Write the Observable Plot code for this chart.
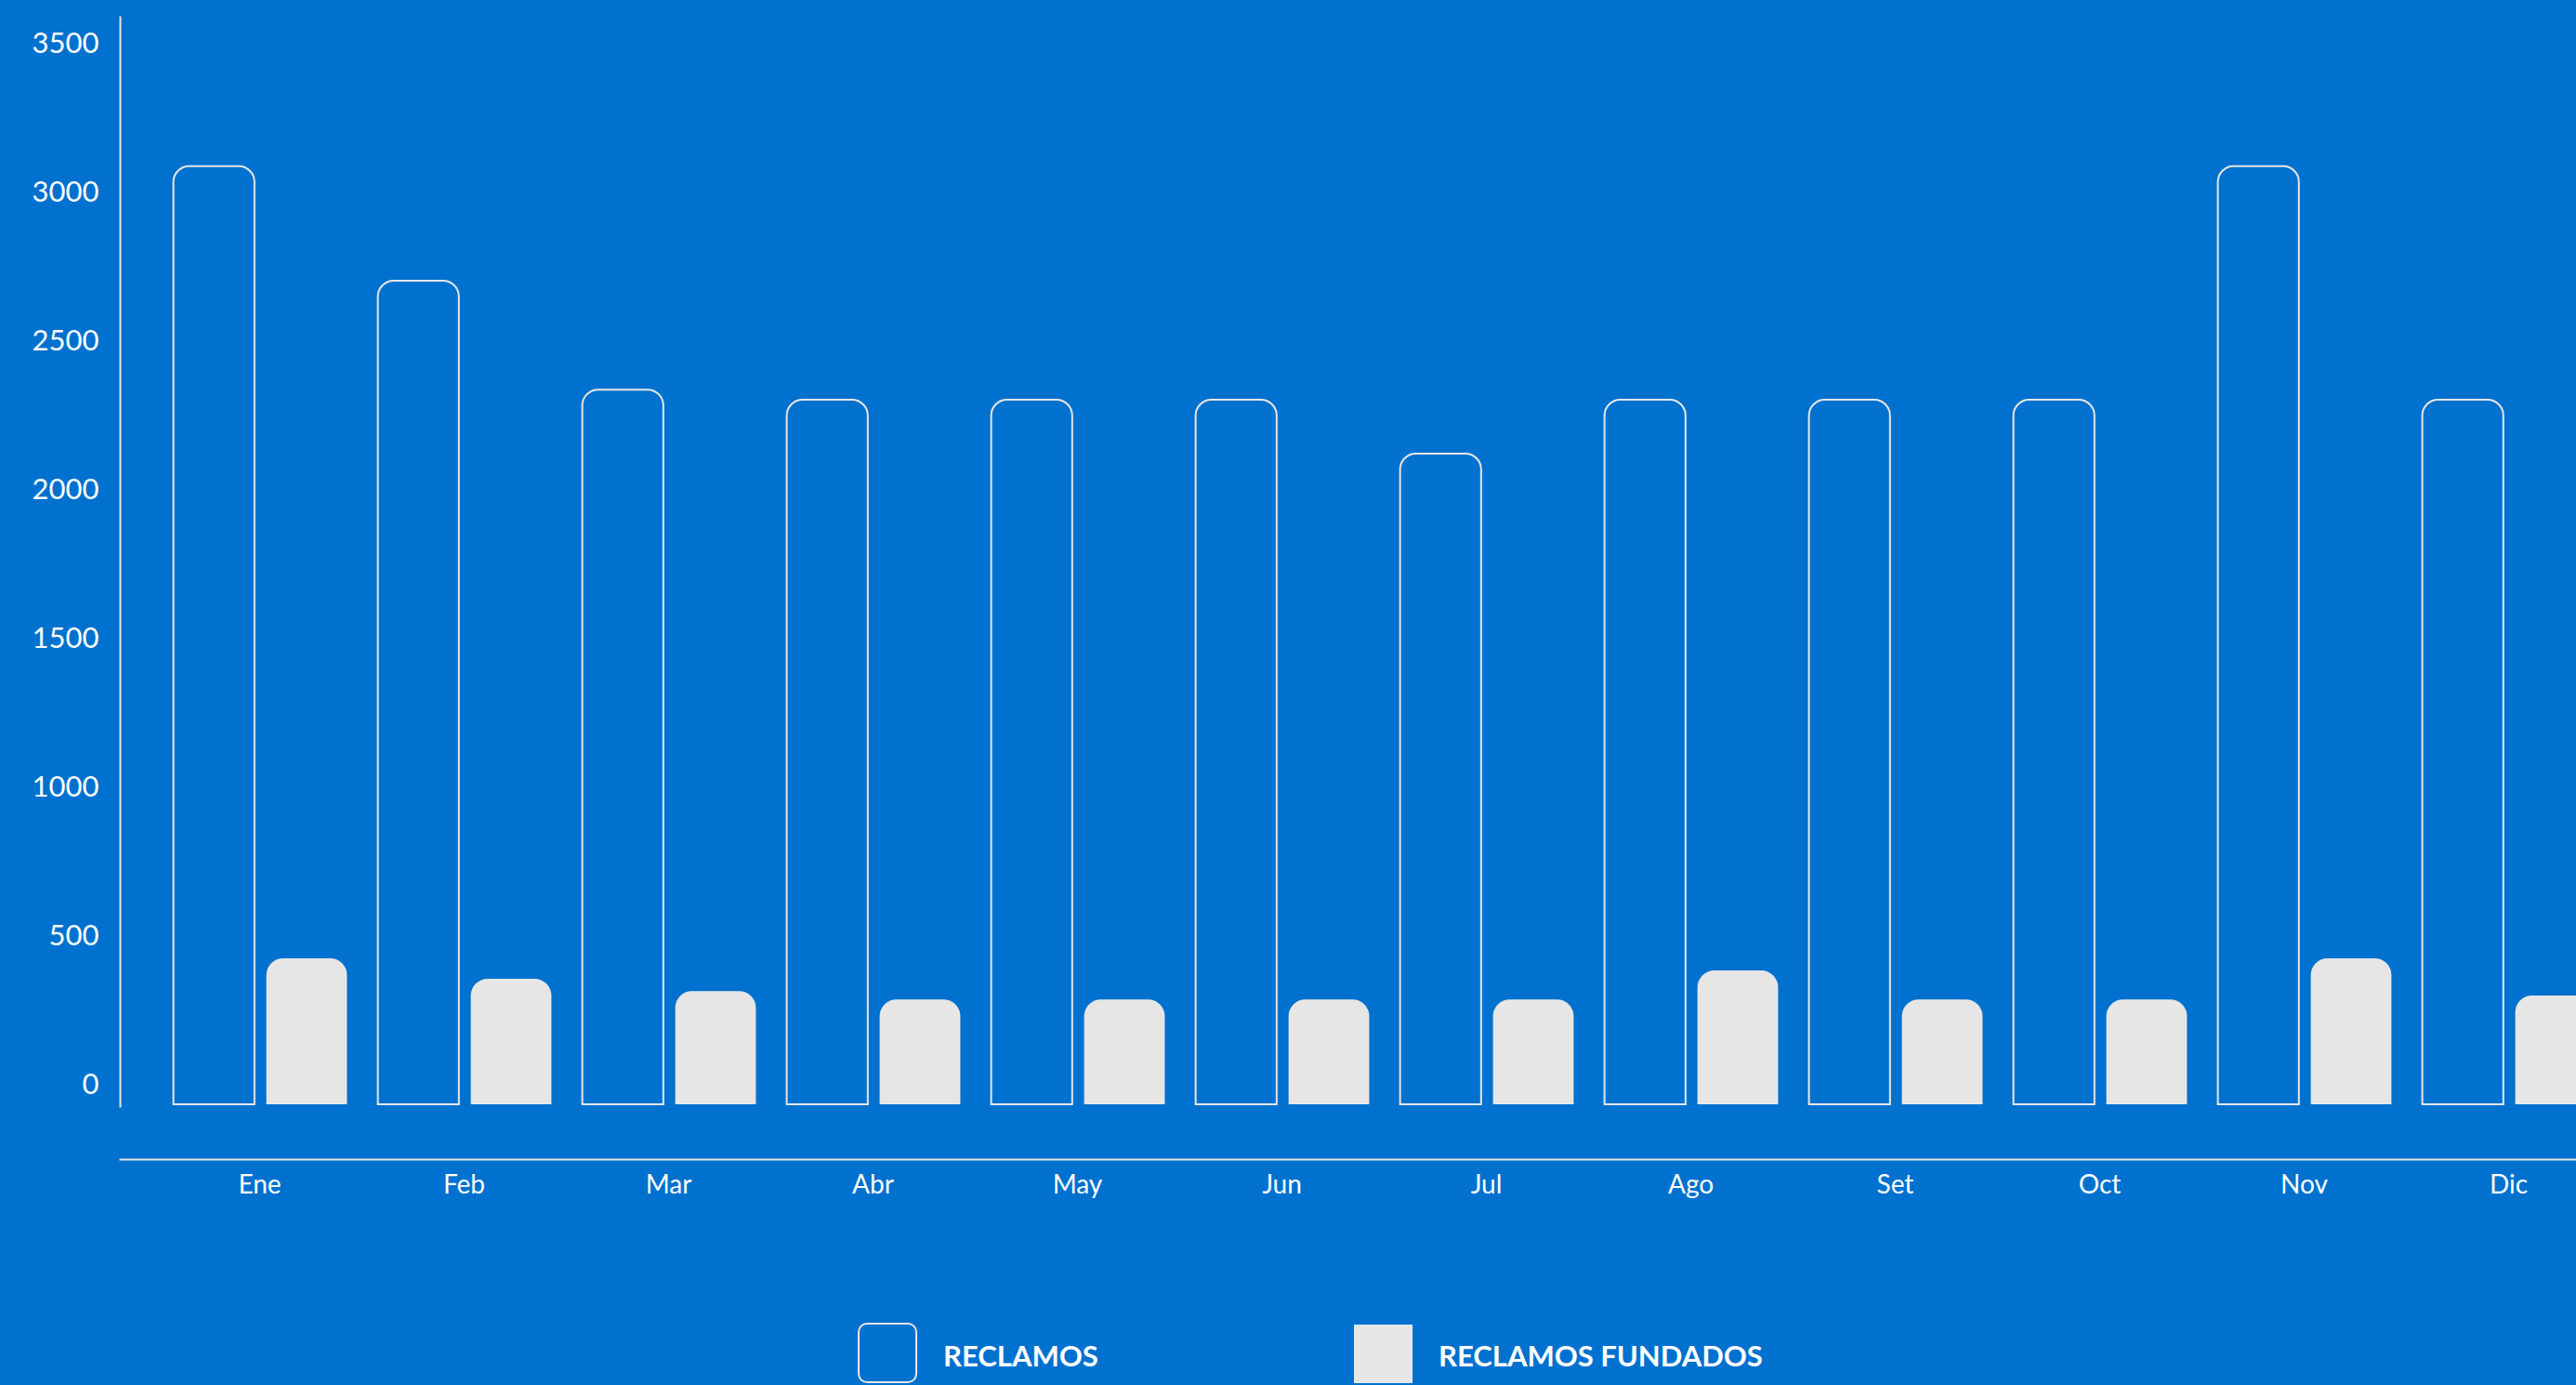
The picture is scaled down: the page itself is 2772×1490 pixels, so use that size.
<!DOCTYPE html>
<html>
<head>
<meta charset="utf-8">
<script src="https://cdn.jsdelivr.net/npm/d3@7"></script>
<script src="https://cdn.jsdelivr.net/npm/@observablehq/plot@0.6"></script>
<style>
  html, body { margin: 0; padding: 0; background: #0071ce; overflow: hidden; }
  #wrap { position: relative; width: 2772px; height: 1490px; overflow: hidden; }
  #legend { position: absolute; left: 0; top: 1380px; width: 2772px; height: 110px; font-family: Lato, "Open Sans", sans-serif; }
  .sw { position: absolute; box-sizing: border-box; }
  .lt { position: absolute; color: #ffffff; font-weight: bold; font-size: 31px; line-height: 32px; white-space: nowrap; }
</style>
</head>
<body>
<div id="wrap">
  <div id="chart"></div>
  <div id="legend"></div>
</div>
<script>
const months = ["Ene","Feb","Mar","Abr","May","Jun","Jul","Ago","Set","Oct","Nov","Dic"];
const reclamos = [3088, 2703, 2337, 2303, 2303, 2303, 2122, 2303, 2303, 2303, 3088, 2303];
const reclamosFundados = [425, 356, 315, 287, 287, 287, 287, 384, 287, 287, 425, 300];
const yTicks = [0, 500, 1000, 1500, 2000, 2500, 3000, 3500];
const seriesNames = ["RECLAMOS", "RECLAMOS FUNDADOS"];

const dataR = months.map((m, i) => ({month: m, value: reclamos[i], series: seriesNames[0]}));
const dataF = months.map((m, i) => ({month: m, value: reclamosFundados[i], series: seriesNames[1]}));

const light = "#e6e6e6";

const chart = Plot.plot({
  width: 2772,
  height: 1380,
  marginLeft: 129,
  marginTop: 18,
  marginRight: 0,
  marginBottom: 133,
  style: {background: "#0071ce", color: "#ffffff", fontFamily: "Lato, 'Open Sans', sans-serif", overflow: "hidden"},
  x: {type: "band", domain: months, range: [167.4, 2810], padding: 0},
  y: {domain: [0, 3500], range: [1167, 47]},
  marks: [
    Plot.frame({anchor: "left", stroke: light, strokeWidth: 2, insetBottom: 57}),
    Plot.frame({anchor: "bottom", stroke: light, strokeWidth: 2}),
    Plot.axisY({ticks: yTicks, tickSize: 0, tickPadding: 23, fontSize: 31, fill: "#ffffff", label: null, tickFormat: d => String(d)}),
    Plot.axisX({tickSize: 0, tickPadding: 17, fontSize: 28, fill: "#ffffff", label: null}),
    Plot.barY(dataR, {x: "month", y: "value", fill: "none", stroke: light, strokeWidth: 2,
      insetLeft: 17.6, insetRight: 115.2, insetBottom: -21, ry1: 17}),
    Plot.barY(dataF, {x: "month", y: "value", fill: light,
      insetLeft: 117.6, insetRight: 15.6, insetBottom: -21, ry1: 18})
  ]
});
document.getElementById("chart").appendChild(chart);

const legend = document.getElementById("legend");
const items = [
  {name: seriesNames[0], swLeft: 923, swTop: 43, w: 64, h: 65, style: `border: 2px solid ${light}; border-radius: 10px;`, textLeft: 1015},
  {name: seriesNames[1], swLeft: 1457, swTop: 45, w: 63, h: 63, style: `background: ${light};`, textLeft: 1548}
];
items.forEach(it => {
  const sw = document.createElement("div");
  sw.className = "sw";
  sw.style.cssText = `left:${it.swLeft}px;top:${it.swTop}px;width:${it.w}px;height:${it.h}px;${it.style}`;
  legend.appendChild(sw);
  const t = document.createElement("div");
  t.className = "lt";
  t.style.left = it.textLeft + "px";
  t.style.top = "62px";
  t.textContent = it.name;
  legend.appendChild(t);
});
</script>
</body>
</html>
